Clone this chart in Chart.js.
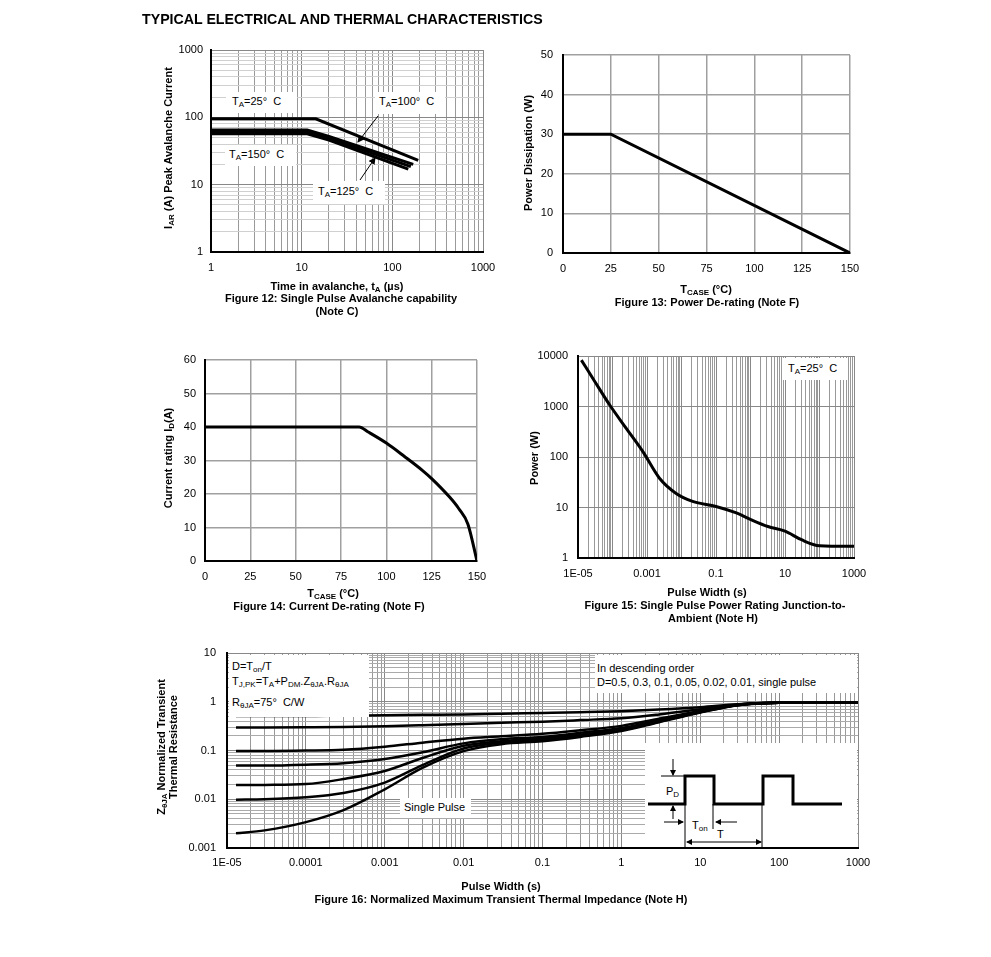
<!DOCTYPE html>
<html>
<head>
<meta charset="utf-8">
<script src="https://cdn.jsdelivr.net/npm/chart.js@4.4.1/dist/chart.umd.min.js"></script>
<style>
body { margin: 0; background: #fff; }
#page { position: relative; width: 991px; height: 957px; overflow: hidden; font-family: 'Liberation Sans', Arial, sans-serif; color: #000; }
canvas { position: absolute; left: 0; top: 0; }
.t { position: absolute; white-space: nowrap; transform: translate(-50%, -50%); font-size: 11px; font-weight: bold; text-align: center; }
.r { transform: translate(-50%, -50%) rotate(-90deg); }
.box { position: absolute; background: #fff; font-size: 11px; white-space: nowrap; box-sizing: border-box; }
sub { font-size: 8px; vertical-align: -2px; line-height: 0; }
</style>
</head>
<body>
<div id="page">
  <canvas id="fig12" width="991" height="957"></canvas>
  <canvas id="fig13" width="991" height="957"></canvas>
  <canvas id="fig14" width="991" height="957"></canvas>
  <canvas id="fig15" width="991" height="957"></canvas>
  <canvas id="fig16" width="991" height="957"></canvas>

  <div class="t" style="left:142px;top:19px;transform:translate(0,-50%);font-size:14.2px;">TYPICAL ELECTRICAL AND THERMAL CHARACTERISTICS</div>

  <!-- Figure 12 -->
  <div class="t r" style="left:168px;top:148px;">I<sub>AR</sub> (A) Peak Avalanche Current</div>
  <div class="t" style="left:337px;top:286px;">Time in avalanche, t<sub>A</sub> (µs)</div>
  <div class="t" style="left:341px;top:298px;">Figure 12: Single Pulse Avalanche capability</div>
  <div class="t" style="left:337px;top:311px;">(Note C)</div>
  <div class="box" style="left:226px;top:92px;width:71px;height:21px;padding:3px 0 0 6px;">T<sub>A</sub>=25°&nbsp; C</div>
  <div class="box" style="left:375px;top:92px;width:70px;height:22px;padding:3px 0 0 4px;">T<sub>A</sub>=100°&nbsp; C</div>
  <div class="box" style="left:225px;top:145px;width:71px;height:21px;padding:3px 0 0 4px;">T<sub>A</sub>=150°&nbsp; C</div>
  <div class="box" style="left:313px;top:181px;width:72px;height:23px;padding:4px 0 0 5px;">T<sub>A</sub>=125°&nbsp; C</div>

  <!-- Figure 13 -->
  <div class="t r" style="left:528px;top:153px;">Power Dissipation (W)</div>
  <div class="t" style="left:706px;top:289px;">T<sub>CASE</sub> (°C)</div>
  <div class="t" style="left:707px;top:302px;">Figure 13: Power De-rating (Note F)</div>

  <!-- Figure 14 -->
  <div class="t r" style="left:168px;top:458px;">Current rating I<sub>D</sub>(A)</div>
  <div class="t" style="left:333px;top:593px;">T<sub>CASE</sub> (°C)</div>
  <div class="t" style="left:329px;top:606px;">Figure 14: Current De-rating (Note F)</div>

  <!-- Figure 15 -->
  <div class="t r" style="left:534px;top:458px;">Power (W)</div>
  <div class="t" style="left:707px;top:592px;">Pulse Width (s)</div>
  <div class="t" style="left:715px;top:605px;">Figure 15: Single Pulse Power Rating Junction-to-</div>
  <div class="t" style="left:713px;top:618px;">Ambient (Note H)</div>
  <div class="box" style="left:783px;top:358px;width:64px;height:22px;padding:4px 0 0 5px;">T<sub>A</sub>=25°&nbsp; C</div>

  <!-- Figure 16 -->
  <div class="t r" style="left:167px;top:747px;line-height:12px;">Z<sub>θJA</sub> Normalized Transient<br>Thermal Resistance</div>
  <div class="t" style="left:501px;top:886px;">Pulse Width (s)</div>
  <div class="t" style="left:501px;top:899px;">Figure 16: Normalized Maximum Transient Thermal Impedance (Note H)</div>
  <div class="box" style="left:229px;top:655px;width:140px;height:62px;padding:4px 0 0 3px;line-height:15px;">
    D=T<sub>on</sub>/T<br>T<sub>J,PK</sub>=T<sub>A</sub>+P<sub>DM</sub>.Z<sub>θJA</sub>.R<sub>θJA</sub><br><span style="display:inline-block;margin-top:6px;">R<sub>θJA</sub>=75°&nbsp; C/W</span>
  </div>
  <div class="box" style="left:595px;top:655px;width:262px;height:38px;padding:6px 0 0 2px;line-height:14px;">
    In descending order<br>D=0.5, 0.3, 0.1, 0.05, 0.02, 0.01, single pulse
  </div>
  <div class="box" style="left:400px;top:798px;width:71px;height:20px;padding:3px 0 0 4px;">Single Pulse</div>
  <svg class="box" style="left:645px;top:743px;width:212px;height:104px;" viewBox="0 0 212 104">
    <defs>
      <marker id="ah" markerWidth="6" markerHeight="6" refX="5" refY="3" orient="auto-start-reverse">
        <path d="M0,0 L6,3 L0,6 z" fill="#000"/>
      </marker>
    </defs>
    <polyline points="3,61 40,61 40,33 69,33 69,61 118,61 118,33 148,33 148,61 197,61" fill="none" stroke="#000" stroke-width="3"/>
    <g stroke="#000" stroke-width="1" fill="none">
      <line x1="16" y1="33" x2="40" y2="33"/>
      <line x1="40" y1="61" x2="40" y2="104"/>
      <line x1="68" y1="61" x2="68" y2="86"/>
      <line x1="117" y1="61" x2="117" y2="104"/>
      <line x1="28" y1="16" x2="28" y2="32" marker-end="url(#ah)"/>
      <line x1="28" y1="76" x2="28" y2="63" marker-end="url(#ah)"/>
      <line x1="19" y1="79" x2="38" y2="79" marker-end="url(#ah)"/>
      <line x1="92" y1="79" x2="71" y2="79" marker-end="url(#ah)"/>
      <line x1="42" y1="99" x2="116" y2="99" marker-start="url(#ah)" marker-end="url(#ah)"/>
    </g>
    <text x="21" y="52" font-size="11" font-family="Liberation Sans, Arial">P<tspan font-size="8" dy="2">D</tspan></text>
    <text x="47" y="86" font-size="11" font-family="Liberation Sans, Arial">T<tspan font-size="8" dy="2">on</tspan></text>
    <text x="72" y="95" font-size="11" font-family="Liberation Sans, Arial">T</text>
  </svg>

  <svg style="position:absolute;left:0;top:0;pointer-events:none;" width="991" height="957">
    <defs>
      <marker id="ah2" markerWidth="7" markerHeight="7" refX="6" refY="3.5" orient="auto">
        <path d="M0,0 L7,3.5 L0,7 z" fill="#000"/>
      </marker>
    </defs>
    <line x1="378" y1="116" x2="358" y2="142" stroke="#000" stroke-width="1" marker-end="url(#ah2)"/>
    <line x1="360" y1="180" x2="375" y2="158" stroke="#000" stroke-width="1" marker-end="url(#ah2)"/>
  </svg>
</div>

<script>
// Figure 12: single pulse avalanche capability
const fig12Time25 = [1, 14.3, 193];
const fig12Current25 = [95, 95, 23];
const fig12Time100 = [1, 11.5, 20, 170];
const fig12Current100 = [65, 65, 52, 20];
const fig12Time125 = [1, 11.5, 20, 160];
const fig12Current125 = [61, 61, 49, 18.5];
const fig12Time150 = [1, 11.5, 20, 150];
const fig12Current150 = [57, 57, 46, 17];
const fig12XLabels = ['1', '10', '100', '1000'];
const fig12YLabels = ['1', '10', '100', '1000'];

// Figure 13: power de-rating
const fig13Temp = [0, 25, 150];
const fig13Power = [30, 30, 0];

// Figure 14: current de-rating
const fig14Temp = [0, 85, 90, 100, 110, 120, 125, 135, 140, 145, 150];
const fig14Current = [40, 40, 38.5, 35.2, 31.2, 27, 24.6, 19, 15.6, 11, 0];

// Figure 15: single pulse power rating
const fig15Width = [1.25e-5, 3e-5, 8.3e-5, 2.5e-4, 7.6e-4, 2.3e-3, 7e-3, 0.021, 0.1, 0.39, 1.06, 3.2, 10, 30, 100, 1000];
const fig15Power = [8300, 3200, 1070, 370, 128, 38, 19, 13.2, 10.5, 7.8, 5.7, 4.2, 3.4, 2.3, 1.75, 1.7];
const fig15XLabels = ['1E-05', '0.001', '0.1', '10', '1000'];
const fig15YLabels = ['1', '10', '100', '1000', '10000'];

// Figure 16: normalized transient thermal impedance
const fig16Width = [1.3e-5, 3e-5, 1e-4, 3e-4, 1e-3, 3e-3, 0.01, 0.03, 0.1, 0.3, 1, 3, 10, 30, 100, 300, 1000];
const fig16D05 = [0.51, 0.51, 0.51, 0.52, 0.53, 0.54, 0.55, 0.57, 0.59, 0.61, 0.64, 0.69, 0.77, 0.89, 0.96, 0.98, 0.98];
const fig16D03 = [0.295, 0.296, 0.3, 0.305, 0.315, 0.33, 0.35, 0.37, 0.39, 0.42, 0.46, 0.55, 0.7, 0.88, 0.96, 0.98, 0.98];
const fig16D01 = [0.098, 0.098, 0.1, 0.104, 0.12, 0.145, 0.175, 0.195, 0.22, 0.26, 0.32, 0.45, 0.65, 0.87, 0.95, 0.98, 0.98];
const fig16D005 = [0.049, 0.049, 0.051, 0.055, 0.067, 0.092, 0.14, 0.17, 0.19, 0.23, 0.29, 0.42, 0.63, 0.86, 0.95, 0.98, 0.98];
const fig16D002 = [0.0195, 0.0197, 0.0205, 0.026, 0.038, 0.07, 0.125, 0.155, 0.175, 0.21, 0.27, 0.4, 0.62, 0.86, 0.95, 0.98, 0.98];
const fig16D001 = [0.0098, 0.01, 0.011, 0.0135, 0.022, 0.05, 0.11, 0.145, 0.165, 0.2, 0.26, 0.39, 0.61, 0.85, 0.95, 0.98, 0.98];
const fig16Single = [0.002, 0.0023, 0.0034, 0.006, 0.016, 0.044, 0.097, 0.135, 0.155, 0.19, 0.25, 0.38, 0.6, 0.85, 0.95, 0.98, 0.98];
const fig16XLabels = ['1E-05', '0.0001', '0.001', '0.01', '0.1', '1', '10', '100', '1000'];
const fig16YLabels = ['0.001', '0.01', '0.1', '1', '10'];

Chart.defaults.font.family = "'Liberation Sans', Arial, sans-serif";
Chart.defaults.font.size = 11;
Chart.defaults.color = '#000';

const AXIS_W = 60;
const AXIS_H = 30;

function points(xs, ys) {
  return xs.map((x, i) => ({ x: x, y: ys[i] }));
}

// values 1..9 x 10^n between min and max
function logValues(min, max, steps) {
  const out = [];
  for (let e = Math.round(Math.log10(min)); e < Math.round(Math.log10(max)); e++) {
    steps.forEach(s => out.push(Number((s * Math.pow(10, e)).toPrecision(6))));
  }
  out.push(max);
  return out;
}

function isDecade(v) {
  const l = Math.log10(v);
  return Math.abs(l - Math.round(l)) < 1e-6;
}

function logAxis(min, max, labels, steps, pad, majorColor, minorColor, isX) {
  const vals = logValues(min, max, steps);
  return {
    type: 'logarithmic', min: min, max: max,
    afterBuildTicks: s => { s.ticks = vals.map(v => ({ value: v })); },
    afterFit: s => fixAxis(s, isX),
    border: { color: '#000', width: 2 },
    grid: { drawTicks: false, lineWidth: 1, color: c => (c.tick && isDecade(c.tick.value)) ? majorColor : minorColor },
    ticks: {
      autoSkip: false, maxRotation: 0, padding: pad,
      callback: v => {
        const i = labels.findIndex(l => Math.abs(Math.log10(Number(l)) - Math.log10(v)) < 1e-6);
        return i >= 0 ? labels[i] : '';
      }
    }
  };
}

function linAxis(min, max, step, pad, isX) {
  return {
    type: 'linear', min: min, max: max,
    afterFit: s => fixAxis(s, isX),
    border: { color: '#000', width: 2 },
    grid: { drawTicks: false, lineWidth: 1.5, color: '#a0a0a0' },
    ticks: { stepSize: step, padding: pad, maxRotation: 0 }
  };
}

function fixAxis(s, isX) {
  if (isX) s.height = AXIS_H; else s.width = AXIS_W;
  s.paddingLeft = 0; s.paddingRight = 0; s.paddingTop = 0; s.paddingBottom = 0;
}

function line(data, width, smooth) {
  return {
    data: data, borderColor: '#000', borderWidth: width, pointRadius: 0, fill: false,
    tension: 0, cubicInterpolationMode: smooth ? 'monotone' : 'default'
  };
}

function makeChart(id, area, xAxis, yAxis, datasets) {
  return new Chart(document.getElementById(id), {
    type: 'line',
    data: { datasets: datasets },
    options: {
      responsive: false, animation: false, events: [],
      layout: { padding: { left: area[0] - AXIS_W, top: area[1], right: 991 - area[2], bottom: 957 - area[3] - AXIS_H } },
      plugins: { legend: { display: false }, tooltip: { enabled: false } },
      scales: { x: xAxis, y: yAxis }
    }
  });
}

const steps19 = [1, 2, 3, 4, 5, 6, 7, 8, 9];

makeChart('fig12', [211, 50, 483, 252],
  logAxis(1, 1000, fig12XLabels, steps19, 9, '#888', '#9a9a9a', true),
  logAxis(1, 1000, fig12YLabels, steps19, 8, '#888', '#d0d0d0', false),
  [
    line(points(fig12Time25, fig12Current25), 3, false),
    line(points(fig12Time100, fig12Current100), 3, false),
    line(points(fig12Time125, fig12Current125), 3, false),
    line(points(fig12Time150, fig12Current150), 3, false)
  ]);

makeChart('fig13', [563, 55, 850, 253],
  linAxis(0, 150, 25, 9, true),
  linAxis(0, 50, 10, 10, false),
  [line(points(fig13Temp, fig13Power), 3, false)]);

makeChart('fig14', [205, 360, 477, 561],
  linAxis(0, 150, 25, 9, true),
  linAxis(0, 60, 10, 9, false),
  [line(points(fig14Temp, fig14Current), 3, true)]);

makeChart('fig15', [578, 356, 854, 558],
  logAxis(1e-5, 1000, fig15XLabels, steps19, 9, '#888', '#999', true),
  logAxis(1, 10000, fig15YLabels, [1], 10, '#888', '#888', false),
  [line(points(fig15Width, fig15Power), 3, true)]);

makeChart('fig16', [227, 653, 858, 848],
  logAxis(1e-5, 1000, fig16XLabels, steps19, 8, '#888', '#999', true),
  logAxis(0.001, 10, fig16YLabels, steps19, 11, '#888', '#aaa', false),
  [
    line(points(fig16Width, fig16D05), 2.5, true),
    line(points(fig16Width, fig16D03), 2.5, true),
    line(points(fig16Width, fig16D01), 2.5, true),
    line(points(fig16Width, fig16D005), 2.5, true),
    line(points(fig16Width, fig16D002), 2.5, true),
    line(points(fig16Width, fig16D001), 2.5, true),
    line(points(fig16Width, fig16Single), 2.5, true)
  ]);
</script>
</body>
</html>
